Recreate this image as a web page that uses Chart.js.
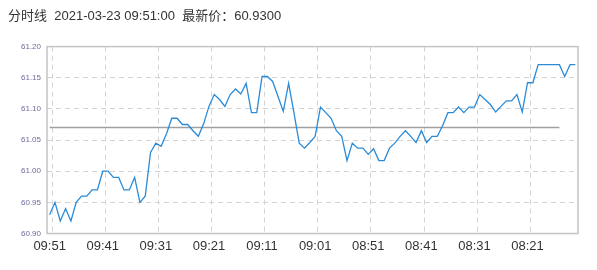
<!DOCTYPE html>
<html>
<head>
<meta charset="utf-8">
<script src="https://cdn.jsdelivr.net/npm/chart.js@4/dist/chart.umd.min.js"></script>
<style>
  body { margin: 0; background: #fff; }
</style>
</head>
<body>
<canvas id="myChart" width="597" height="270"></canvas>
<script>
// minute labels, newest first
const timeLabels = [
  "09:51","09:50","09:49","09:48","09:47","09:46","09:45","09:44","09:43","09:42",
  "09:41","09:40","09:39","09:38","09:37","09:36","09:35","09:34","09:33","09:32",
  "09:31","09:30","09:29","09:28","09:27","09:26","09:25","09:24","09:23","09:22",
  "09:21","09:20","09:19","09:18","09:17","09:16","09:15","09:14","09:13","09:12",
  "09:11","09:10","09:09","09:08","09:07","09:06","09:05","09:04","09:03","09:02",
  "09:01","09:00","08:59","08:58","08:57","08:56","08:55","08:54","08:53","08:52",
  "08:51","08:50","08:49","08:48","08:47","08:46","08:45","08:44","08:43","08:42",
  "08:41","08:40","08:39","08:38","08:37","08:36","08:35","08:34","08:33","08:32",
  "08:31","08:30","08:29","08:28","08:27","08:26","08:25","08:24","08:23","08:22",
  "08:21","08:20","08:19","08:18","08:17","08:16","08:15","08:14","08:13","08:12"
];

const prices = [
  60.93, 60.95, 60.92, 60.94, 60.92, 60.95, 60.96, 60.96, 60.97, 60.97,
  61.00, 61.00, 60.99, 60.99, 60.97, 60.97, 60.99, 60.95, 60.96, 61.03,
  61.045, 61.04, 61.06, 61.085, 61.085, 61.075, 61.075, 61.065, 61.056, 61.076,
  61.104, 61.123, 61.115, 61.104, 61.123, 61.132, 61.124, 61.141, 61.094, 61.094,
  61.152, 61.152, 61.144, 61.12, 61.096, 61.141, 61.094, 61.045, 61.037, 61.046,
  61.056, 61.103, 61.094, 61.085, 61.065, 61.056, 61.017, 61.045, 61.037, 61.037,
  61.027, 61.036, 61.017, 61.017, 61.037, 61.045, 61.056, 61.065, 61.056, 61.046,
  61.065, 61.046, 61.056, 61.056, 61.073, 61.094, 61.094, 61.103, 61.094, 61.103,
  61.103, 61.123, 61.115, 61.107, 61.095, 61.104, 61.113, 61.113, 61.123, 61.095,
  61.142, 61.142, 61.171, 61.171, 61.171, 61.171, 61.171, 61.152, 61.171, 61.171
];

// reference level and where it stops
const prevClose = 61.07;
const refStart = "09:51";
const refEnd = "08:15";

const yMin = 60.90;
const yMax = 61.20;
const yStep = 0.05;

const titleText = "分时线  2021-03-23 09:51:00  最新价：60.9300";

// solid frame around the plot area
const frame = {
  id: "frame",
  afterDraw(chart) {
    const {ctx, chartArea: a} = chart;
    ctx.save();
    ctx.strokeStyle = "#c4c4c4";
    ctx.lineWidth = 1.5;
    ctx.strokeRect(a.left, a.top, a.right - a.left, a.bottom - a.top);
    ctx.restore();
  }
};

const ctx = document.getElementById("myChart").getContext("2d");

new Chart(ctx, {
  type: "line",
  data: {
    labels: timeLabels,
    datasets: [
      {
        data: prices,
        borderColor: "#2a8bd8",
        borderWidth: 1.3,
        pointRadius: 0,
        tension: 0
      },
      {
        data: [{x: refStart, y: prevClose}, {x: refEnd, y: prevClose}],
        borderColor: "#a0a0a0",
        borderWidth: 1.5,
        pointRadius: 0
      }
    ]
  },
  options: {
    responsive: false,
    animation: false,
    layout: { padding: { left: 8, right: 19, top: 0, bottom: 0 } },
    plugins: {
      legend: { display: false },
      tooltip: { enabled: false },
      title: {
        display: true,
        text: titleText,
        align: "start",
        color: "#333",
        font: { family: "Arial, 'Liberation Sans', 'Noto Sans CJK SC'", size: 13, weight: "normal" },
        padding: { top: 9, bottom: 22 }
      }
    },
    scales: {
      x: {
        offset: true,
        grid: {
          offset: true,
          drawTicks: false,
          color: c => c.index % 10 === 1 ? "#d3d3d3" : "transparent"
        },
        border: { display: false, dash: [5, 4] },
        ticks: {
          autoSkip: false,
          maxRotation: 0,
          padding: 5,
          color: "#333",
          font: { family: "Arial, 'Liberation Sans'", size: 13 },
          callback: function(val, i) {
            return i % 10 === 0 ? this.getLabelForValue(val) : "";
          }
        },
        afterFit: s => { s.height = 36.5; }
      },
      y: {
        min: yMin,
        max: yMax,
        grid: { drawTicks: false, color: "#d3d3d3" },
        border: { display: false, dash: [5, 4] },
        ticks: {
          stepSize: yStep,
          padding: 6,
          color: "#6b6b9b",
          font: { family: "Arial, 'Liberation Sans'", size: 8 },
          callback: v => v.toFixed(2)
        },
        afterFit: s => { s.width = 39; }
      }
    }
  },
  plugins: [frame]
});
</script>
</body>
</html>
